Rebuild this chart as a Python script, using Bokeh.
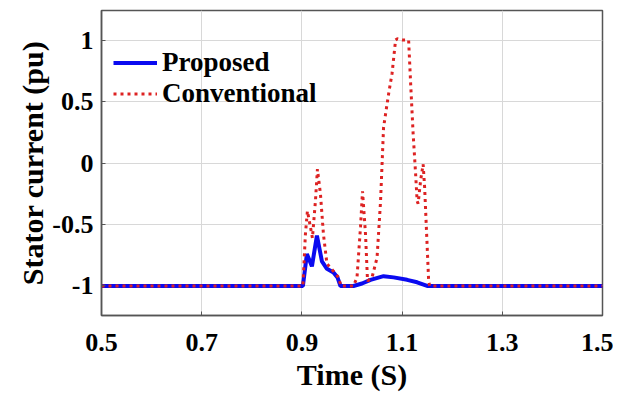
from bokeh.plotting import figure
from bokeh.models import Legend, LegendItem, FixedTicker, Range1d
from bokeh.embed import file_html
from bokeh.resources import INLINE

# ---- data ----
time_proposed = [0.5, 0.902, 0.910, 0.920, 0.930, 0.940, 0.950, 0.963, 0.971, 0.977,
                 1.003, 1.020, 1.037, 1.063, 1.083, 1.110, 1.130, 1.150, 1.5]
current_proposed = [-1.0, -1.0, -0.74, -0.84, -0.59, -0.80, -0.86, -0.89, -0.93, -1.0,
                    -1.0, -0.98, -0.95, -0.92, -0.93, -0.95, -0.97, -1.0, -1.0]

time_conventional = [0.5, 0.902, 0.907, 0.911, 0.917, 0.921, 0.927, 0.931, 0.937, 0.943,
                     0.950, 0.963, 0.973, 0.978, 1.003, 1.010, 1.017, 1.021, 1.027, 1.031,
                     1.040, 1.050, 1.057, 1.063, 1.073, 1.080, 1.087, 1.090, 1.100, 1.110,
                     1.113, 1.117, 1.122, 1.127, 1.130, 1.132, 1.137, 1.142, 1.145, 1.149,
                     1.153, 1.155, 1.5]
current_conventional = [-1.0, -1.0, -0.58, -0.39, -0.52, -0.61, -0.31, -0.05, -0.25, -0.58,
                        -0.82, -0.88, -0.93, -1.0, -1.0, -0.93, -0.52, -0.23, -0.58, -0.96,
                        -0.93, -0.77, -0.31, 0.29, 0.56, 0.73, 1.0, 1.01, 1.0, 1.0,
                        1.0, 0.65, 0.24, -0.09, -0.31, -0.33, -0.14, -0.01, -0.20, -0.58,
                        -0.96, -1.0, -1.0]

x_ticks = [0.5, 0.7, 0.9, 1.1, 1.3, 1.5]
x_tick_labels = ["0.5", "0.7", "0.9", "1.1", "1.3", "1.5"]
y_ticks = [-1, -0.5, 0, 0.5, 1]
y_tick_labels = ["-1", "-0.5", "0", "0.5", "1"]

FONT = "Liberation Serif"

p = figure(width=613, height=394, output_backend="svg", toolbar_location=None,
           x_range=Range1d(0.5, 1.5), y_range=Range1d(-1.24, 1.24),
           min_border_left=101, min_border_right=11, min_border_top=10, min_border_bottom=79)
p.background_fill_color = "white"
p.border_fill_color = "white"
p.outline_line_color = "#555555"
p.outline_line_width = 1.5

proposed = p.line(time_proposed, current_proposed, line_color="#0a0af0", line_width=4)
conventional = p.line(time_conventional, current_conventional, line_color="#dd2222",
                      line_width=3, line_dash="3 4")

for ax, ticks, labels in ((p.xaxis[0], x_ticks, x_tick_labels), (p.yaxis[0], y_ticks, y_tick_labels)):
    ax.ticker = FixedTicker(ticks=ticks)
    ax.major_label_overrides = {t: l for t, l in zip(ticks, labels)}
    ax.major_label_text_font = FONT
    ax.major_label_text_font_style = "bold"
    ax.major_label_text_font_size = "26px"
    ax.major_label_text_color = "black"
    ax.axis_label_text_font = FONT
    ax.axis_label_text_font_style = "bold"
    ax.axis_label_text_font_size = "30px"
    ax.axis_label_text_color = "black"
    ax.axis_line_color = "#555555"
    ax.axis_line_width = 1.5
    ax.major_tick_in = 4
    ax.major_tick_out = 0
    ax.major_tick_line_color = "#555555"
    ax.minor_tick_line_color = None

p.xaxis.axis_label = "Time (S)"
p.yaxis.axis_label = "Stator current (pu)"
p.xaxis.major_label_standoff = 18
p.xaxis.axis_label_standoff = 4
p.yaxis.major_label_standoff = 8
p.yaxis.axis_label_standoff = 0

p.xgrid.ticker = FixedTicker(ticks=x_ticks)
p.ygrid.ticker = FixedTicker(ticks=y_ticks)
p.grid.grid_line_color = "#d8d8d8"
p.grid.grid_line_width = 1

legend = Legend(items=[LegendItem(label="Proposed", renderers=[proposed]),
                       LegendItem(label="Conventional", renderers=[conventional])],
                location=(12, 206))
legend.background_fill_alpha = 0
legend.border_line_alpha = 0
legend.margin = 0
legend.padding = 0
legend.spacing = 0
legend.glyph_width = 44
legend.glyph_height = 31
legend.label_height = 31
legend.label_standoff = 5
legend.label_text_font = FONT
legend.label_text_font_style = "bold"
legend.label_text_font_size = "27px"
legend.label_text_color = "black"
p.add_layout(legend, "center")

open("out.html", "w").write(file_html(p, INLINE))
